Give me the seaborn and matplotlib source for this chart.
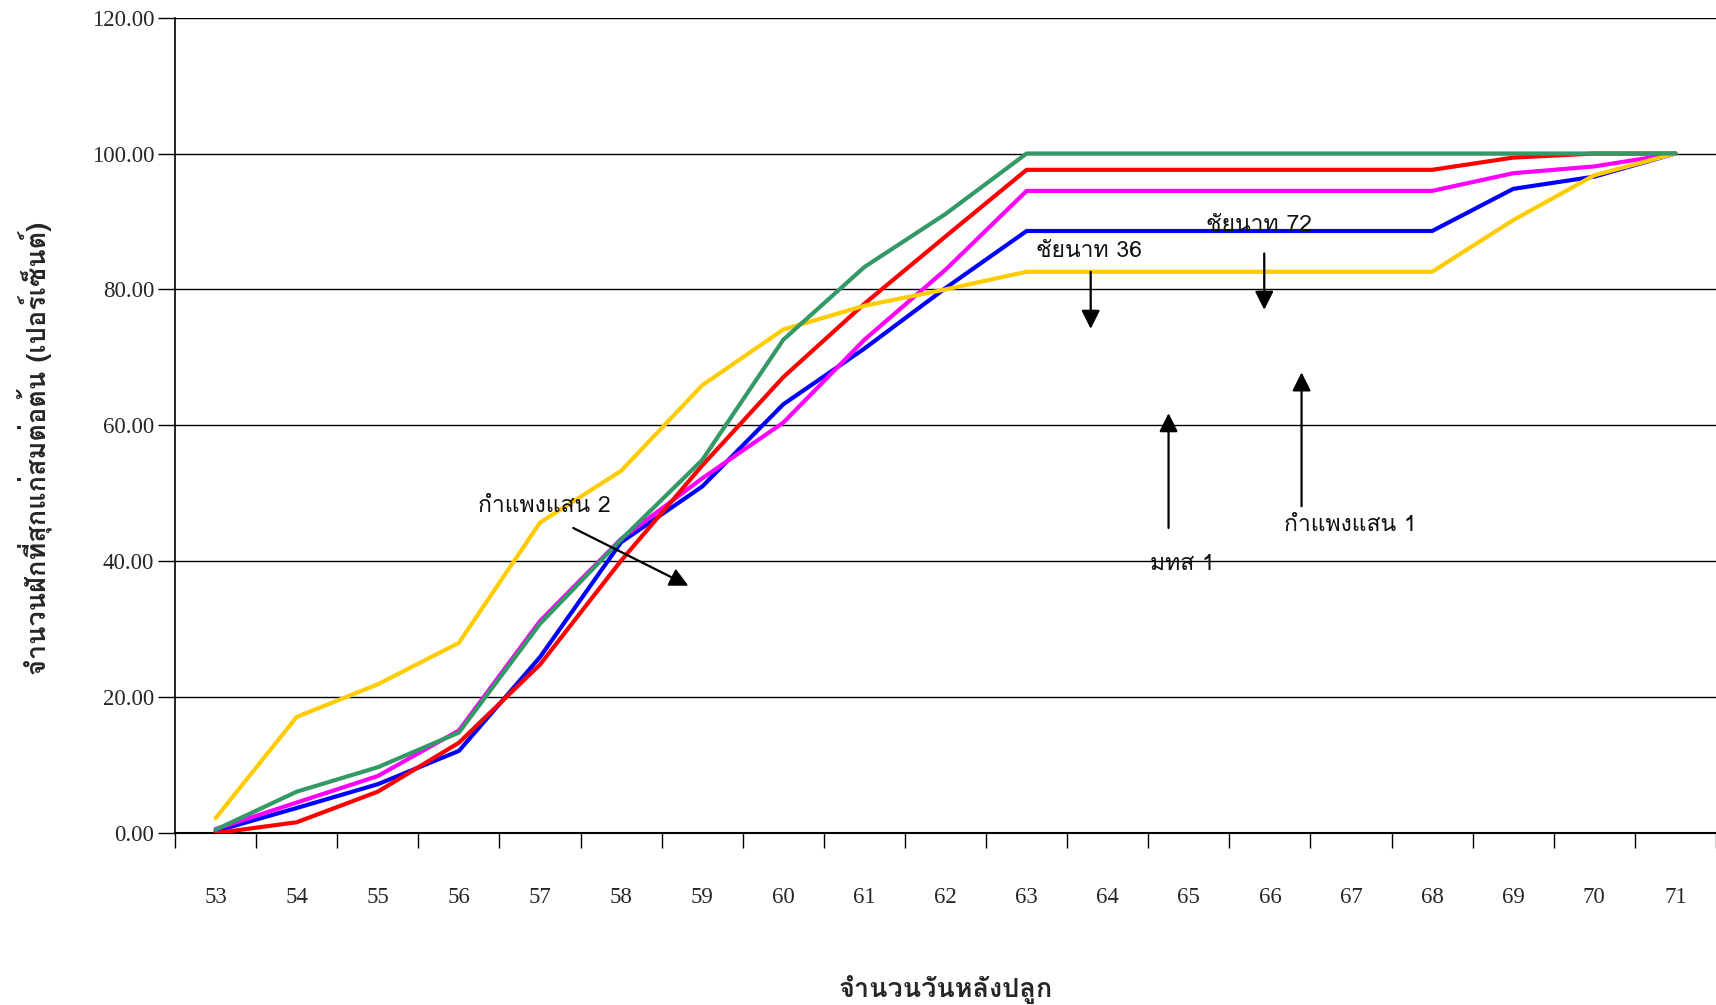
import matplotlib
matplotlib.use("Agg")
import matplotlib.pyplot as plt
from matplotlib import font_manager
import seaborn as sns
import pandas as pd

# ---------------- data ----------------
days = list(range(53, 72))
blue = [0.3, 3.7, 7.2, 12.1, 25.9, 42.8, 51.0, 63.1, 71.3, 80.2, 88.6, 88.6, 88.6, 88.6, 88.6, 88.6, 94.8, 96.6, 100.0]
magenta = [0.6, 4.5, 8.4, 15.1, 31.2, 43.3, 52.2, 60.4, 72.6, 82.9, 94.5, 94.5, 94.5, 94.5, 94.5, 94.5, 97.1, 98.1, 100.0]
red = [0.0, 1.6, 6.1, 13.3, 24.8, 40.1, 54.1, 67.1, 77.9, 87.8, 97.6, 97.6, 97.6, 97.6, 97.6, 97.6, 99.4, 100.0, 100.0]
yellow = [2.2, 17.1, 21.9, 28.0, 45.7, 53.3, 65.9, 74.1, 77.6, 80.0, 82.6, 82.6, 82.6, 82.6, 82.6, 82.6, 90.2, 96.8, 100.0]
green = [0.5, 6.1, 9.7, 14.8, 30.8, 43.2, 54.9, 72.6, 83.3, 91.1, 100.0, 100.0, 100.0, 100.0, 100.0, 100.0, 100.0, 100.0, 100.0]
series_names = ["blue", "magenta", "red", "yellow", "green"]
series_colors = ["#0000FF", "#FF00FF", "#FF0000", "#FFCC00", "#339966"]
y_ticks = [0, 20, 40, 60, 80, 100, 120]
x_label = "จำนวนวันหลังปลูก"
y_label = "จำนวนฝักที่สุกแก่สมต่อต้น (เปอร์เซ็นต์)"
ann_texts = ["ชัยนาท 36", "ชัยนาท 72", "มทส 1", "กำแพงแสน 1", "กำแพงแสน 2"]
ann_text_xy = [(63.77, 85.6), (65.87, 89.4), (64.92, 39.6), (66.99, 45.2), (57.06, 48.0)]
ann_arrow_from = [(63.79, 82.6), (65.93, 85.3), (64.75, 44.9), (66.39, 48.1), (57.41, 44.9)]
ann_arrow_to = [(63.79, 74.2), (65.93, 77.0), (64.75, 61.8), (66.39, 67.8), (58.83, 36.4)]

# ---------------- fonts ----------------
def thai_fonts():
    found = []
    try:
        from fontTools.ttLib import TTFont
    except Exception:
        return found
    seen = set()
    for f in font_manager.fontManager.ttflist:
        if f.name in seen:
            continue
        try:
            tt = TTFont(f.fname, fontNumber=0, lazy=True)
            cmap = tt.getBestCmap() or {}
            if 0x0E01 in cmap and 0x0E33 in cmap:
                found.append(f.name)
                seen.add(f.name)
            tt.close()
        except Exception:
            pass
    return found

thai = thai_fonts()
sns.set_theme(style="white")
sans_list = thai + ["DejaVu Sans"]
serif_list = ["Liberation Serif"] + thai + ["DejaVu Sans"]
plt.rcParams["font.family"] = sans_list

df = pd.DataFrame({
    "day": days * len(series_names),
    "value": blue + magenta + red + yellow + green,
    "series": sum([[n] * len(days) for n in series_names], []),
})

fig = plt.figure(figsize=(17.16, 10.05), dpi=100)
ax = fig.add_axes([0.102, 0.171, 0.898, 0.8115])

sns.lineplot(data=df, x="day", y="value", hue="series", hue_order=series_names,
             palette=dict(zip(series_names, series_colors)), linewidth=3,
             legend=False, ax=ax, zorder=3)

ax.set_xlim(52.5, 71.5)
ax.set_ylim(0, 120)
ax.set_yticks(y_ticks)
ax.set_yticklabels([f"{v:.2f}" for v in y_ticks], family=serif_list, fontsize=16.5)
ax.set_xticks(days)
ax.set_xticklabels([str(d) for d in days], family=serif_list, fontsize=16.5)
ax.set_xticks([d - 0.5 for d in days] + [71.5], minor=True)
ax.tick_params(axis="x", which="major", length=0, pad=39)
ax.tick_params(axis="x", which="minor", length=11, width=1, color="black", direction="out", bottom=True)
ax.tick_params(axis="y", which="major", length=12, width=1, color="black", direction="out", left=True, pad=3)
ax.grid(False)
for yv in y_ticks[1:]:
    ax.axhline(yv, color="black", lw=1, zorder=1)

for s in ["top", "right"]:
    ax.spines[s].set_visible(False)
ax.spines["left"].set_color("black")
ax.spines["left"].set_linewidth(1.2)
ax.spines["bottom"].set_color("black")
ax.spines["bottom"].set_linewidth(1.5)

ax.set_xlabel(x_label, fontsize=19.5, fontweight="bold", labelpad=48)
ax.set_ylabel(y_label, fontsize=19.5, fontweight="bold")
ax.yaxis.set_label_coords(-0.0795, 0.472)

for txt, txy, a0, a1 in zip(ann_texts, ann_text_xy, ann_arrow_from, ann_arrow_to):
    ax.text(txy[0], txy[1], txt, ha="center", va="center", fontsize=16.5, color="#111111", zorder=5)
    ax.annotate("", xy=a1, xytext=a0,
                arrowprops=dict(arrowstyle="-|>", mutation_scale=28, lw=1.6, color="black",
                                shrinkA=0, shrinkB=0), zorder=5)

fig.savefig("out.png", dpi=100)
